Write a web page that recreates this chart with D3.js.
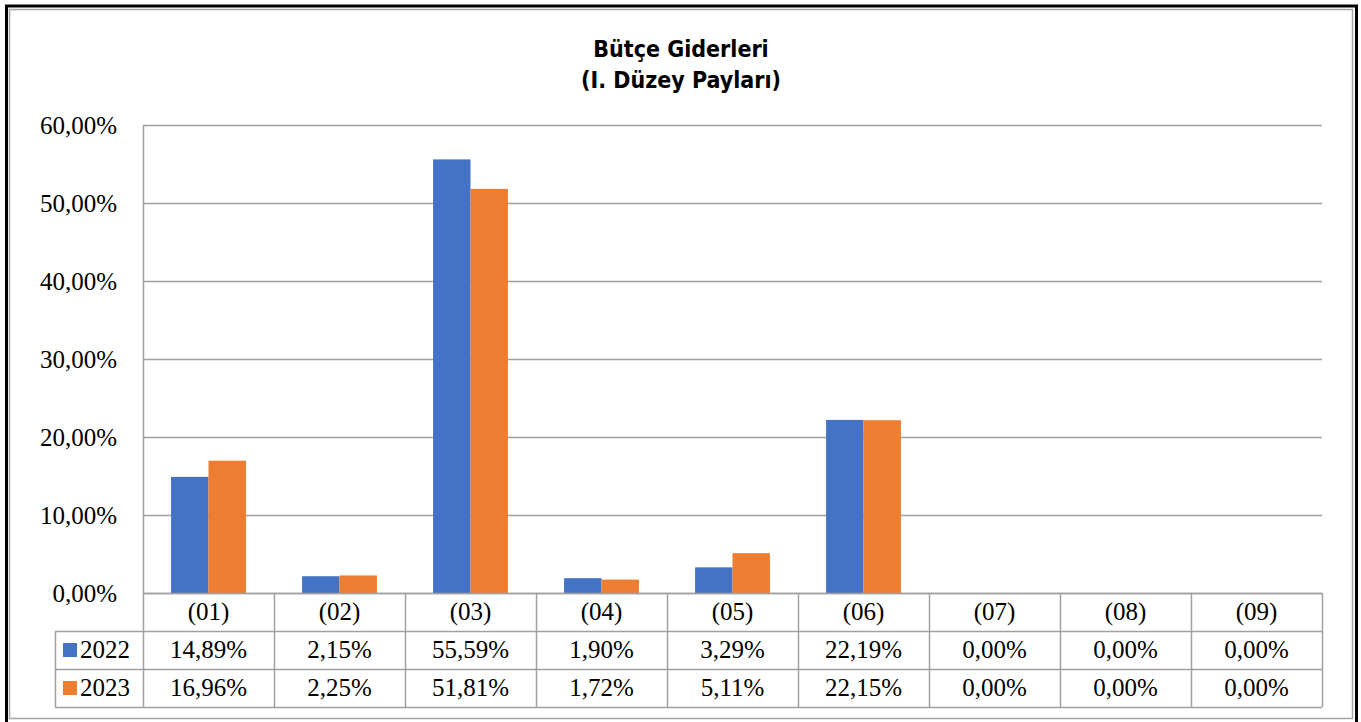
<!DOCTYPE html>
<html><head><meta charset="utf-8">
<script src="https://cdn.jsdelivr.net/npm/d3@7"></script>
<style>body{margin:0;background:#fff}svg{display:block}</style>
</head><body>
<script>
const categories = ["(01)","(02)","(03)","(04)","(05)","(06)","(07)","(08)","(09)"];
const seriesNames = ["2022","2023"];
const values2022 = [14.89,2.15,55.59,1.90,3.29,22.19,0,0,0];
const values2023 = [16.96,2.25,51.81,1.72,5.11,22.15,0,0,0];
const yTicks = [0,10,20,30,40,50,60];
const colors = ["#4472C4","#ED7D31"];
const titleLines = ["Bütçe Giderleri","(I. Düzey Payları)"];

const W=1361,H=722;
const svg=d3.select("body").append("svg").attr("width",W).attr("height",H);
svg.append("rect").attr("x",6.5).attr("y",6).attr("width",1350).attr("height",720).attr("fill","none").attr("stroke","#000").attr("stroke-width",3);
svg.append("rect").attr("x",9.5).attr("y",9.5).attr("width",1343).attr("height",709).attr("fill","none").attr("stroke","#a6a6a6").attr("stroke-width",1.5);

const L=143,R=1322,T=125,B=593;
const fmt=v=>d3.format(".2f")(v).replace(".",",")+"%";
const x=d3.scaleBand().domain(categories).range([L,R]);
const xs=d3.scaleBand().domain(seriesNames).range([0,x.bandwidth()]).paddingInner(0).paddingOuter(0.75);
const y=d3.scaleLinear().domain([0,60]).range([B,T]);

svg.append("g").selectAll("text").data(titleLines).join("text")
 .attr("x",681).attr("y",(d,i)=>57+i*31).attr("text-anchor","middle")
 .attr("font-family","'DejaVu Sans',sans-serif").attr("font-stretch","condensed").attr("font-weight","bold")
 .attr("font-size",23).attr("fill","#000").text(d=>d);

const grid=svg.append("g");
grid.selectAll("line").data(yTicks).join("line").attr("x1",L).attr("x2",R)
 .attr("y1",d=>Math.round(y(d))+0.5).attr("y2",d=>Math.round(y(d))+0.5).attr("stroke","#a0a0a0").attr("stroke-width",1.5);
svg.append("line").attr("x1",L+0.5).attr("x2",L+0.5).attr("y1",T).attr("y2",B).attr("stroke","#a0a0a0").attr("stroke-width",1.5);

const tf="'Liberation Serif','Times New Roman',serif";
const fs=25;
const yAxis=d3.axisLeft(y).tickValues(yTicks).tickFormat(d=>fmt(d)).tickSize(0).tickPadding(26);
const ya=svg.append("g").attr("transform",`translate(${L},0)`).call(yAxis);
ya.select(".domain").remove();
ya.selectAll("text").attr("font-family",tf).attr("font-size",fs).attr("fill","#000");

const data=[values2022,values2023];
data.forEach((vals,si)=>{
  svg.append("g").selectAll("rect").data(vals).join("rect")
   .attr("x",(d,i)=>x(categories[i])+xs(seriesNames[si]))
   .attr("width",xs.bandwidth())
   .attr("y",d=>y(d)).attr("height",d=>B-y(d)).attr("fill",colors[si]);
});

// data table
const rowH=38, legL=55;
const tbl=svg.append("g").attr("stroke","#a0a0a0").attr("stroke-width",1.5).attr("fill","none");
tbl.append("line").attr("x1",L).attr("x2",R).attr("y1",B+0.5).attr("y2",B+0.5);
[1,2,3].forEach(r=>tbl.append("line").attr("x1",legL).attr("x2",R).attr("y1",B+r*rowH+0.5).attr("y2",B+r*rowH+0.5));
categories.forEach(c=>tbl.append("line").attr("x1",Math.round(x(c))+0.5).attr("x2",Math.round(x(c))+0.5).attr("y1",B).attr("y2",B+3*rowH));
tbl.append("line").attr("x1",R+0.5).attr("x2",R+0.5).attr("y1",B).attr("y2",B+3*rowH);
tbl.append("line").attr("x1",legL+0.5).attr("x2",legL+0.5).attr("y1",B+rowH).attr("y2",B+3*rowH);

svg.append("g").selectAll("text").data(categories).join("text")
 .attr("x",d=>x(d)+x.bandwidth()/2).attr("y",B+rowH/2+8).attr("text-anchor","middle")
 .attr("font-family",tf).attr("font-size",fs).text(d=>d);
data.forEach((vals,si)=>{
  const cy=B+rowH*(si+1)+rowH/2+8;
  svg.append("g").selectAll("text").data(vals).join("text")
   .attr("x",(d,i)=>x(categories[i])+x.bandwidth()/2).attr("y",cy).attr("text-anchor","middle")
   .attr("font-family",tf).attr("font-size",fs).text(d=>fmt(d));
  svg.append("rect").attr("x",legL+8).attr("y",B+rowH*(si+1)+rowH/2-7).attr("width",14).attr("height",14).attr("fill",colors[si]);
  svg.append("text").attr("x",legL+25).attr("y",cy).attr("font-family",tf).attr("font-size",fs).text(seriesNames[si]);
});
</script>
</body></html>
